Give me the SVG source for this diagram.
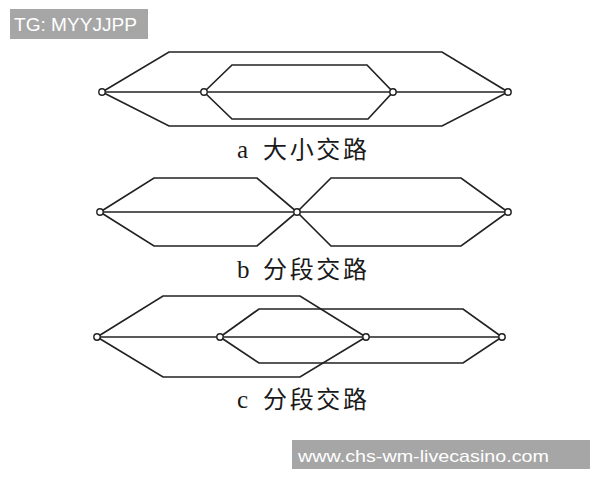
<svg xmlns="http://www.w3.org/2000/svg" width="600" height="480" viewBox="0 0 600 480">
<style>
.r{fill:none;stroke:#222;stroke-width:1.7;stroke-linejoin:miter}
.n{fill:#fff;stroke:#222;stroke-width:1.4}
.lat{font-family:"Liberation Serif",serif;font-size:25px;fill:#1a1a1a}
.cjk{font-family:"Noto Sans CJK SC",sans-serif;font-size:24px;fill:#1a1a1a}
.wm{font-family:"Liberation Sans",Arial,sans-serif;fill:#fff}
</style>
<rect width="600" height="480" fill="#fff"/>
<g id="connectors">
  <!-- a -->
  <polyline class="r" points="102,92 169,52 442,52 508,92 442,126 169,126 102,92"/>
  <line class="r" x1="102" y1="92" x2="508" y2="92"/>
  <polyline class="r" points="204,92 232,65 367,65 393,92 368,119 232,119 204,92"/>
  <!-- b -->
  <polyline class="r" points="100,212 154,178 257,178 297,212 257,246 154,246 100,212"/>
  <polyline class="r" points="297,212 331,178 461,178 508,212 461,246 331,246 297,212"/>
  <line class="r" x1="100" y1="212" x2="508" y2="212"/>
  <!-- c -->
  <polyline class="r" points="97,337 163,296 300,296 366,337 300,377 163,377 97,337"/>
  <polyline class="r" points="220,337 259,309 463,309 502,337 463,363 259,363 220,337"/>
  <line class="r" x1="97" y1="337" x2="502" y2="337"/>
</g>
<g id="a1"><circle class="n" cx="102" cy="92" r="3.2"/></g>
<g id="a2"><circle class="n" cx="204" cy="92" r="3.2"/></g>
<g id="a3"><circle class="n" cx="393" cy="92" r="3.2"/></g>
<g id="a4"><circle class="n" cx="508" cy="92" r="3.2"/></g>
<g id="b1"><circle class="n" cx="100" cy="212" r="3.2"/></g>
<g id="b2"><circle class="n" cx="297" cy="212" r="3.2"/></g>
<g id="b3"><circle class="n" cx="508" cy="212" r="3.2"/></g>
<g id="c1"><circle class="n" cx="97" cy="337" r="3.2"/></g>
<g id="c2"><circle class="n" cx="220" cy="337" r="3.2"/></g>
<g id="c3"><circle class="n" cx="366" cy="337" r="3.2"/></g>
<g id="c4"><circle class="n" cx="502" cy="337" r="3.2"/></g>
<g id="labels">
  <text class="lat" x="237" y="158">a</text>
  <text class="cjk" x="263" y="158" textLength="104" lengthAdjust="spacing">大小交路</text>
  <text class="lat" x="237" y="278">b</text>
  <text class="cjk" x="263" y="278" textLength="104" lengthAdjust="spacing">分段交路</text>
  <text class="lat" x="237" y="408">c</text>
  <text class="cjk" x="263" y="408" textLength="104" lengthAdjust="spacing">分段交路</text>
</g>
<g id="wm1">
  <rect x="10" y="9" width="138" height="30" fill="#a6a6a6"/>
  <text class="wm" x="14" y="31" font-size="18" textLength="123" lengthAdjust="spacingAndGlyphs">TG: MYYJJPP</text>
</g>
<g id="wm2">
  <rect x="292" y="440" width="298" height="29" fill="#a6a6a6"/>
  <text class="wm" x="298" y="462" font-size="17" textLength="251" lengthAdjust="spacingAndGlyphs">www.chs-wm-livecasino.com</text>
</g>
</svg>
